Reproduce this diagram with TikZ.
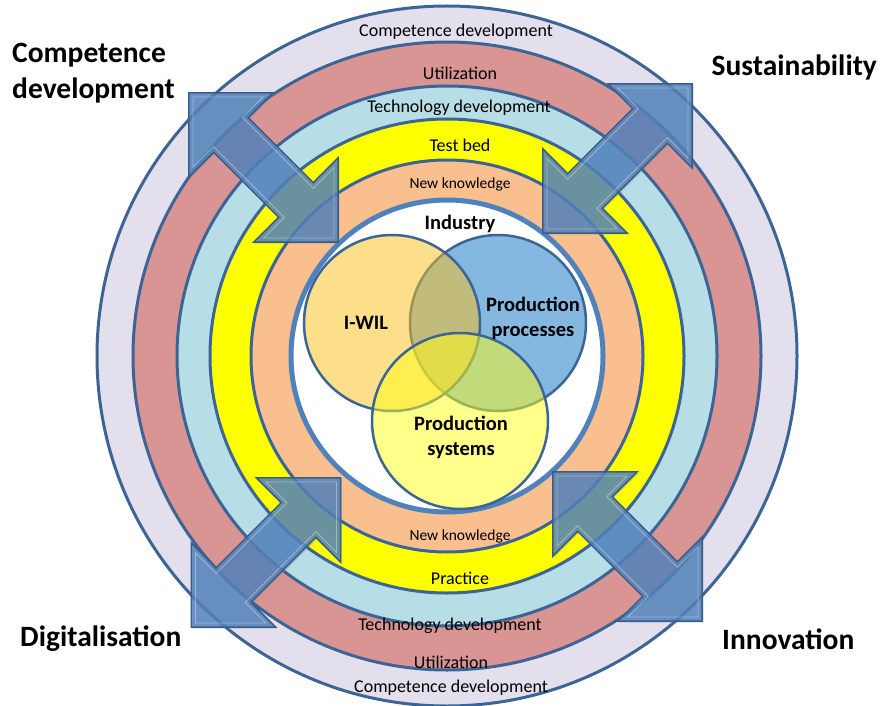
\documentclass[tikz,border=0pt]{standalone}
\usepackage{fontspec}
\setmainfont{Carlito}
\usetikzlibrary{shadows}

\definecolor{ringline}{HTML}{3C6596}
\definecolor{indline}{HTML}{4F81BD}
\definecolor{ringlav}{HTML}{E4DFEC}
\definecolor{ringrose}{HTML}{D99594}
\definecolor{ringblue}{HTML}{B7DDE7}
\definecolor{ringyellow}{HTML}{FFFF00}
\definecolor{ringpeach}{HTML}{F9BF8F}
\definecolor{vennblue}{HTML}{85B8E0}
\definecolor{venngold}{HTML}{FDBF19}
\definecolor{vennyellow}{HTML}{FFFF15}
\definecolor{arrowblue}{HTML}{4F81BD}
\definecolor{arrowline}{HTML}{385D8A}

\tikzset{
  ring/.style={draw=ringline,line width=3pt},
  venn/.style={circle,draw=ringline,line width=2.5pt,minimum size=176pt,inner sep=0},
  ringlabel/.style={font=\fontsize{18}{21}\selectfont,inner sep=0},
  knowlabel/.style={font=\fontsize{15.5}{18}\selectfont,inner sep=0},
  vennlabel/.style={font=\bfseries\fontsize{20.5}{25}\selectfont,inner sep=0,align=center},
  biglabel/.style={font=\bfseries\fontsize{29.5}{36}\selectfont,inner sep=0,align=left},
  dblarrow/.pic={
    \path[fill=arrowblue,fill opacity=.8,draw=arrowline,line width=1.5pt,
      drop shadow={shadow xshift=1.5pt,shadow yshift=-1.5pt,opacity=.3}]
      (-105.5,0) -- (-46,59.5) -- (-46,24.5) -- (46,24.5) -- (46,59.5) -- (105.5,0)
      -- (46,-59.5) -- (46,-24.5) -- (-46,-24.5) -- (-46,-59.5) -- cycle;
    \draw[white,opacity=.35,line width=.8pt]
      (-99.8,0) -- (-50,49.8) -- (-50,20.5) -- (50,20.5) -- (50,49.8) -- (99.8,0)
      -- (50,-49.8) -- (50,-20.5) -- (-50,-20.5) -- (-50,-49.8) -- cycle;
  }
}

\begin{document}
\begin{tikzpicture}[x=1pt,y=-1pt]
  \useasboundingbox (0,0) rectangle (881,706);
  \coordinate (ctr) at (447,356);

  % rings, outside in
  \foreach \r/\col in {350/ringlav,314/ringrose,270/ringblue,237/ringyellow,196/ringpeach}
    \draw[ring,fill=\col] (ctr) circle[radius=\r];
  \draw[draw=indline,line width=5pt,fill=white] (ctr) circle[radius=156];

  % venn
  \node[venn,fill=vennblue] (pp) at (498,323) {};
  \node[venn,fill=venngold,fill opacity=.5,draw opacity=1] (wil) at (392,323) {};
  \node[venn,fill=vennyellow,fill opacity=.5,draw opacity=1] (ps) at (460,421) {};

  % ring labels
  \node[ringlabel] (cd1) at (456,32) {Competence development};
  \node[ringlabel] (ut1) at (460,73) {Utilization};
  \node[ringlabel] (td1) at (459,108) {Technology development};
  \node[ringlabel] (tb) at (460,145) {Test bed};
  \node[knowlabel] (nk1) at (460,184) {New knowledge};
  \node[vennlabel] (ind) at (460,224) {Industry};
  \node[knowlabel] (nk2) at (460,536) {New knowledge};
  \node[ringlabel] (pr) at (460,578) {Practice};
  \node[ringlabel] (td2) at (450,626) {Technology development};
  \node[ringlabel] (ut2) at (451,662) {Utilization};
  \node[ringlabel] (cd2) at (451,688) {Competence development};

  \node[vennlabel] (wiltext) at (366,323) {I-WIL};
  \node[vennlabel] (pptext) at (533,318) {Production\\processes};
  \node[vennlabel] (pstext) at (461,437) {Production\\systems};

  % arrows
  \foreach \cx/\cy/\ang in {263.5/167.5/-45,617.5/158.5/45,266/552.5/45,627.5/546.5/-45}
    \pic[shift={(\cx,\cy)},rotate=\ang] {dblarrow};

  % corner labels
  \node[biglabel,anchor=west] (comp) at (12,73) {Competence\\development};
  \node[biglabel,anchor=east] (sust) at (877,67) {Sustainability};
  \node[biglabel,anchor=west] (digi) at (20,639) {Digitalisation};
  \node[biglabel,anchor=west] (inno) at (722,639) {Innovation};
\end{tikzpicture}
\end{document}
